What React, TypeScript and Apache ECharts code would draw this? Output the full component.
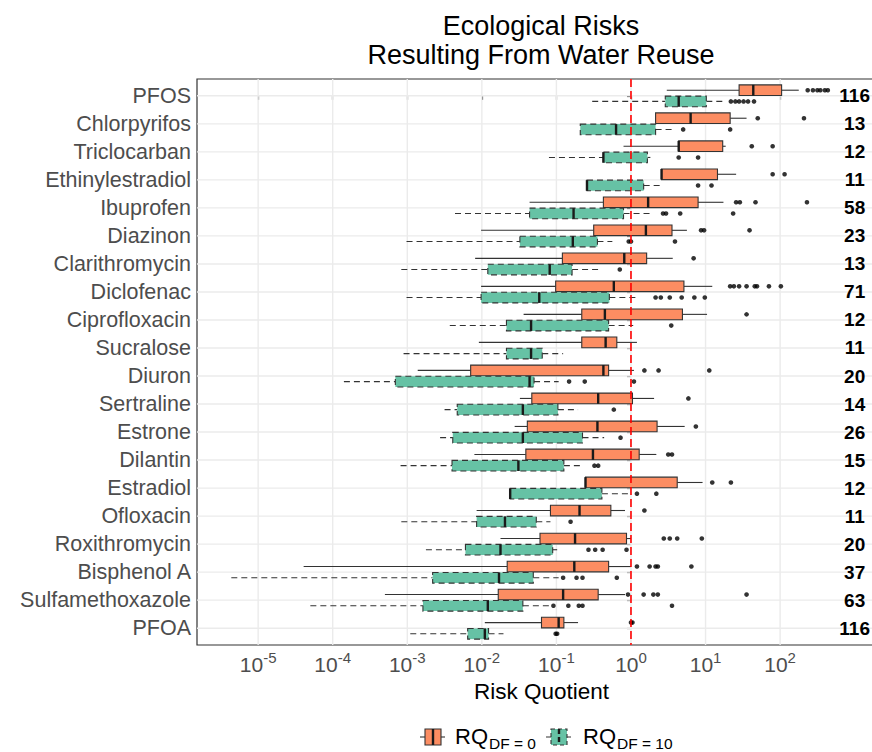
import React, { useEffect, useRef } from "react";
import * as echarts from "echarts";

// ---------- data ----------
const compounds = [
  "PFOS", "Chlorpyrifos", "Triclocarban", "Ethinylestradiol", "Ibuprofen",
  "Diazinon", "Clarithromycin", "Diclofenac", "Ciprofloxacin", "Sucralose",
  "Diuron", "Sertraline", "Estrone", "Dilantin", "Estradiol",
  "Ofloxacin", "Roxithromycin", "Bisphenol A", "Sulfamethoxazole", "PFOA",
];
const sampleCounts = [116, 13, 12, 11, 58, 23, 13, 71, 12, 11, 20, 14, 26, 15, 12, 11, 20, 37, 63, 116];

// log10(RQ): [lower whisker, Q1, median, Q3, upper whisker]
const rqDF0Log10 = [
  [0.48, 1.45, 1.64, 2.02, 2.25],
  [0.33, 0.33, 0.80, 1.33, 1.55],
  [-0.10, 0.64, 0.64, 1.23, 1.27],
  [0.41, 0.41, 0.41, 1.16, 1.41],
  [-1.36, -0.37, 0.23, 0.90, 1.24],
  [-2.01, -0.50, 0.20, 0.55, 0.75],
  [-2.09, -0.92, -0.09, 0.21, 0.56],
  [-2.01, -1.01, -0.23, 0.71, 1.09],
  [-1.44, -0.66, -0.35, 0.69, 1.02],
  [-2.04, -0.66, -0.34, -0.19, 0.08],
  [-2.86, -2.15, -0.37, -0.30, 0.04],
  [-1.49, -1.33, -0.44, 0.02, 0.31],
  [-1.56, -1.39, -0.45, 0.35, 0.72],
  [-2.10, -1.41, -0.51, 0.11, 0.34],
  [-0.61, -0.61, -0.61, 0.62, 0.96],
  [-2.07, -1.08, -0.69, -0.27, -0.08],
  [-1.75, -1.22, -0.75, -0.06, 0.0],
  [-4.39, -1.66, -0.76, -0.30, 0.0],
  [-3.30, -1.78, -0.91, -0.44, -0.08],
  [-1.96, -1.20, -0.97, -0.90, -0.71],
];
const rqDF10Log10 = [
  [-0.52, 0.46, 0.64, 1.01, 1.27],
  [-0.68, -0.68, -0.20, 0.33, 0.55],
  [-1.10, -0.37, -0.37, 0.22, 0.26],
  [-0.59, -0.59, -0.59, 0.17, 0.40],
  [-2.36, -1.36, -0.77, -0.10, 0.25],
  [-3.01, -1.49, -0.78, -0.45, -0.25],
  [-3.08, -1.92, -1.09, -0.79, -0.44],
  [-3.01, -2.01, -1.23, -0.29, 0.08],
  [-2.43, -1.67, -1.34, -0.30, 0.03],
  [-3.05, -1.67, -1.34, -1.19, -0.91],
  [-3.85, -3.16, -1.36, -1.30, -0.97],
  [-2.50, -2.33, -1.45, -0.98, -0.71],
  [-2.56, -2.39, -1.45, -0.65, -0.36],
  [-3.09, -2.40, -1.51, -0.90, -0.66],
  [-1.62, -1.62, -1.62, -0.39, -0.03],
  [-3.08, -2.07, -1.69, -1.27, -1.08],
  [-2.75, -2.22, -1.75, -1.05, -0.99],
  [-5.36, -2.66, -1.77, -1.31, -0.97],
  [-4.30, -2.79, -1.92, -1.45, -1.08],
  [-2.96, -2.19, -1.96, -1.91, -1.71],
];
const outliersDF0Log10 = [
  [2.37, 2.44, 2.50, 2.54, 2.60, 2.64],
  [1.70, 2.32],
  [1.62, 1.90],
  [1.90, 2.06],
  [1.41, 1.46, 1.67, 2.36],
  [0.94, 0.98, 1.59],
  [0.84],
  [1.33, 1.38, 1.45, 1.55, 1.66, 1.69, 1.85, 2.01],
  [1.55],
  [],
  [0.18, 0.37, 1.05],
  [0.77],
  [0.87],
  [0.50, 0.55],
  [1.09, 1.34],
  [0.18],
  [0.44, 0.52, 0.62, 0.95],
  [0.08, 0.25, 0.33, 0.36, 0.81],
  [-0.04, 0.17, 0.30, 0.36, 1.55],
  [0.0, 0.02],
];
const outliersDF10Log10 = [
  [1.34, 1.40, 1.45, 1.51, 1.57, 1.65],
  [0.70, 1.33],
  [0.64, 0.90],
  [0.90, 1.08],
  [0.43, 0.47, 0.66, 1.37],
  [-0.03, 0.0, 0.59],
  [-0.15],
  [0.33, 0.40, 0.52, 0.68, 0.85, 0.99],
  [0.54],
  [],
  [-0.83, -0.62, 0.04],
  [-0.23],
  [-0.14],
  [-0.49, -0.44],
  [0.08, 0.34],
  [-0.81],
  [-0.57, -0.48, -0.38, -0.06],
  [-0.91, -0.73, -0.65, -0.19],
  [-1.04, -0.84, -0.70, -0.65, 0.55],
  [-1.01, -0.99],
];
const xTickExponents = [-5, -4, -3, -2, -1, 0, 1, 2];
const thresholdLog10 = 0;
const countLabelLog10 = 3;

// ---------- styles ----------
const ORANGE = "#FC8D62";
const GREEN = "#66C2A5";
const EDGE = "#333333";
const FONT = '"Liberation Sans", Arial, Helvetica, sans-serif';
const DASH = [6, 4];
const BOX_OFFSET = 0.2;
const BOX_HALF = 0.19;

function boxRenderer(fill: string, dashed: boolean, offset: number) {
  return (params: any, api: any) => {
    const idx = api.value(0);
    const unit = api.size([0, 1])[1];
    const y = api.coord([0, idx])[1] + offset * unit;
    const h = BOX_HALF * unit;
    const px = (d: number) => api.coord([api.value(d), idx])[0];
    const lo = px(1), q1 = px(2), med = px(3), q3 = px(4), hi = px(5);
    const ls: any = { stroke: EDGE, lineWidth: 1.1, fill: null };
    if (dashed) ls.lineDash = DASH;
    const children: any[] = [];
    if (q1 - lo > 0.5) children.push({ type: "line", shape: { x1: lo, y1: y, x2: q1, y2: y }, style: ls });
    if (hi - q3 > 0.5) children.push({ type: "line", shape: { x1: q3, y1: y, x2: hi, y2: y }, style: ls });
    children.push({
      type: "rect",
      shape: { x: q1, y: y - h, width: q3 - q1, height: 2 * h },
      style: { fill, stroke: EDGE, lineWidth: 1.1, lineDash: dashed ? DASH : null },
    });
    children.push({
      type: "line",
      shape: { x1: med, y1: y - h, x2: med, y2: y + h },
      style: { stroke: "#1a1a1a", lineWidth: 2.4 },
    });
    return { type: "group", children };
  };
}

function flatOutliers(list: number[][]) {
  const out: number[][] = [];
  list.forEach((vals, i) => vals.forEach((v) => out.push([v, i])));
  return out;
}

export default function App() {
  const ref = useRef<HTMLDivElement>(null);
  useEffect(() => {
    if (!ref.current) return;
    const chart = echarts.init(ref.current, undefined, { renderer: "svg" });
    const catIdx = compounds.map((_, i) => i);

    const option: any = {
      animation: false,
      textStyle: { fontFamily: FONT },
      grid: {
        left: 197, top: 79, width: 689, height: 566,
        show: true, borderColor: EDGE, borderWidth: 1.2, backgroundColor: "transparent",
        containLabel: false,
      },
      xAxis: {
        type: "value",
        min: -5.82, max: 3.42,
        axisLine: { show: false },
        splitLine: { show: false },
        axisTick: { show: true, customValues: xTickExponents, length: 4, lineStyle: { color: EDGE, width: 1.2 } },
        axisLabel: {
          customValues: xTickExponents,
          margin: 5,
          formatter: (v: number) => `{b|10}{s|${v}}`,
          rich: {
            b: { fontSize: 21, color: "#4D4D4D", fontFamily: FONT, verticalAlign: "bottom", lineHeight: 25 },
            s: { fontSize: 15, color: "#4D4D4D", fontFamily: FONT, verticalAlign: "top", lineHeight: 15 },
          },
        },
        name: "Risk Quotient",
        nameLocation: "middle",
        nameGap: 31,
        nameTextStyle: { fontSize: 22.5, color: "#000", fontFamily: FONT },
      },
      yAxis: {
        type: "value",
        inverse: true,
        min: -0.6, max: 19.6,
        axisLine: { show: false },
        splitLine: { show: false },
        axisTick: { show: true, customValues: catIdx, length: 4, lineStyle: { color: EDGE, width: 1.2 } },
        axisLabel: {
          customValues: catIdx,
          margin: 6,
          fontSize: 21.5,
          color: "#4D4D4D",
          fontFamily: FONT,
          formatter: (v: number) => compounds[Math.round(v)],
        },
      },
      series: [
        {
          type: "custom", name: "vgrid", z: 1, silent: true,
          data: xTickExponents.map((e) => [e, 0]),
          renderItem: (params: any, api: any) => {
            const cs = params.coordSys;
            const x = api.coord([api.value(0), 0])[0];
            return { type: "line", shape: { x1: x, y1: cs.y, x2: x, y2: cs.y + cs.height }, style: { stroke: "#EBEBEB", lineWidth: 1.4 } };
          },
        },
        {
          type: "custom", name: "hgrid", z: 1, silent: true,
          data: catIdx.map((i) => [0, i]),
          renderItem: (params: any, api: any) => {
            const cs = params.coordSys;
            const y = api.coord([0, api.value(1)])[1];
            return { type: "line", shape: { x1: cs.x, y1: y, x2: cs.x + cs.width, y2: y }, style: { stroke: "#EBEBEB", lineWidth: 1.4 } };
          },
        },
        {
          type: "custom", name: "DF0", z: 3,
          data: rqDF0Log10.map((b, i) => [i, ...b]),
          renderItem: boxRenderer(ORANGE, false, -BOX_OFFSET),
        },
        {
          type: "custom", name: "DF10", z: 3,
          data: rqDF10Log10.map((b, i) => [i, ...b]),
          renderItem: boxRenderer(GREEN, true, BOX_OFFSET),
        },
        {
          type: "scatter", name: "outDF0", z: 4,
          data: flatOutliers(outliersDF0Log10),
          symbol: "circle", symbolSize: 4.6, symbolOffset: [0, -5.6],
          itemStyle: { color: "#000" },
        },
        {
          type: "scatter", name: "outDF10", z: 4,
          data: flatOutliers(outliersDF10Log10),
          symbol: "circle", symbolSize: 4.6, symbolOffset: [0, 5.6],
          itemStyle: { color: "#000" },
        },
        {
          type: "custom", name: "threshold", z: 5, silent: true,
          data: [[thresholdLog10, 0]],
          renderItem: (params: any, api: any) => {
            const cs = params.coordSys;
            const x = api.coord([api.value(0), 0])[0];
            return { type: "line", shape: { x1: x, y1: cs.y, x2: x, y2: cs.y + cs.height }, style: { stroke: "#FF0000", lineWidth: 1.6, lineDash: [8, 4] } };
          },
        },
        {
          type: "custom", name: "counts", z: 6, silent: true,
          data: sampleCounts.map((n, i) => [countLabelLog10, i, n]),
          renderItem: (params: any, api: any) => {
            const p = api.coord([api.value(0), api.value(1)]);
            return {
              type: "text", x: p[0], y: p[1],
              style: {
                text: String(api.value(2)), fill: "#000", fontSize: 19, fontWeight: "bold", fontFamily: FONT,
                align: "center", verticalAlign: "middle", textAlign: "center", textVerticalAlign: "middle",
              },
            };
          },
        },
      ],
      graphic: [
        { type: "text", x: 541, y: 26, style: { text: "Ecological Risks", fontSize: 27, fontFamily: FONT, fill: "#000", align: "center", verticalAlign: "middle", textAlign: "center", textVerticalAlign: "middle" } },
        { type: "text", x: 541, y: 55, style: { text: "Resulting From Water Reuse", fontSize: 27, fontFamily: FONT, fill: "#000", align: "center", verticalAlign: "middle", textAlign: "center", textVerticalAlign: "middle" } },
        // legend: DF = 0
        { type: "line", shape: { x1: 420, y1: 737, x2: 445, y2: 737 }, style: { stroke: EDGE, lineWidth: 1.1 } },
        { type: "rect", shape: { x: 425, y: 729, width: 16, height: 16 }, style: { fill: ORANGE, stroke: EDGE, lineWidth: 1.1 } },
        { type: "line", shape: { x1: 433, y1: 729, x2: 433, y2: 745 }, style: { stroke: "#1a1a1a", lineWidth: 2.4 } },
        { type: "text", x: 455, y: 736, style: { text: "RQ", fontSize: 22, fontFamily: FONT, fill: "#000", verticalAlign: "middle", textVerticalAlign: "middle" } },
        { type: "text", x: 489, y: 743, style: { text: "DF = 0", fontSize: 15.5, fontFamily: FONT, fill: "#000", verticalAlign: "middle", textVerticalAlign: "middle" } },
        // legend: DF = 10
        { type: "line", shape: { x1: 546, y1: 737, x2: 571, y2: 737 }, style: { stroke: EDGE, lineWidth: 1.1, lineDash: DASH } },
        { type: "rect", shape: { x: 551, y: 729, width: 16, height: 16 }, style: { fill: GREEN, stroke: EDGE, lineWidth: 1.1, lineDash: [4, 3] } },
        { type: "line", shape: { x1: 559, y1: 729, x2: 559, y2: 745 }, style: { stroke: "#1a1a1a", lineWidth: 2.4, lineDash: [5, 3] } },
        { type: "text", x: 583, y: 736, style: { text: "RQ", fontSize: 22, fontFamily: FONT, fill: "#000", verticalAlign: "middle", textVerticalAlign: "middle" } },
        { type: "text", x: 617, y: 743, style: { text: "DF = 10", fontSize: 15.5, fontFamily: FONT, fill: "#000", verticalAlign: "middle", textVerticalAlign: "middle" } },
      ],
    };
    chart.setOption(option);
    return () => chart.dispose();
  }, []);

  return (
    <div style={{ position: "absolute", left: 0, top: 0, width: 872, height: 752, overflow: "hidden", background: "#fff" }}>
      <div ref={ref} style={{ width: 900, height: 752 }} />
    </div>
  );
}
